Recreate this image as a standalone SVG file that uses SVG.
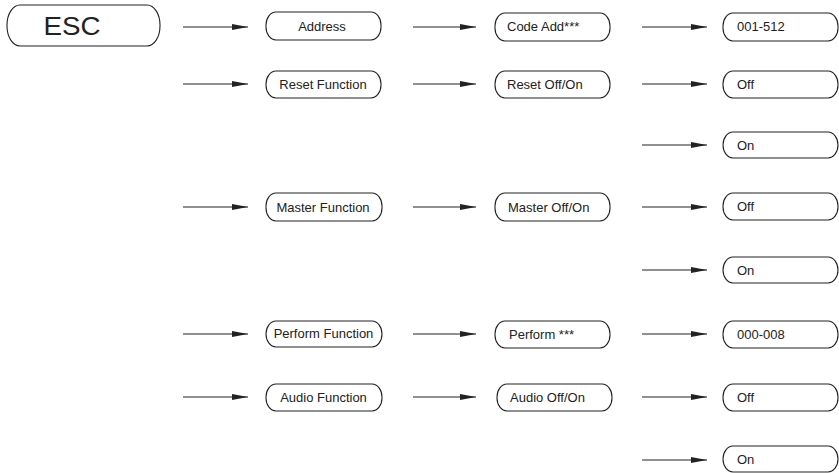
<svg xmlns="http://www.w3.org/2000/svg" width="839" height="473" viewBox="0 0 839 473">
<style>
.b{fill:#fff;stroke:#222;stroke-width:1.1}
.t{font-family:"Liberation Sans",Arial,sans-serif;font-size:13px;fill:#222}
.c{text-anchor:middle}
.e{font-family:"Liberation Sans",Arial,sans-serif;font-size:25px;fill:#222;text-anchor:middle}
.a{stroke:#222;stroke-width:1.1;fill:none;marker-end:url(#ah)}
</style>
<defs>
<marker id="ah" markerUnits="userSpaceOnUse" markerWidth="17" markerHeight="8" refX="16" refY="3.5" orient="auto">
<path d="M0,0.5 L16,3.5 L0,6.5 Z" fill="#222"/>
</marker>
</defs>
<g id="connectors">
<line class="a" x1="183" y1="27" x2="248" y2="27"/>
<line class="a" x1="413" y1="27" x2="476" y2="27"/>
<line class="a" x1="642" y1="27" x2="707" y2="27"/>
<line class="a" x1="183" y1="84" x2="248" y2="84"/>
<line class="a" x1="413" y1="84" x2="476" y2="84"/>
<line class="a" x1="642" y1="84" x2="707" y2="84"/>
<line class="a" x1="642" y1="145" x2="707" y2="145"/>
<line class="a" x1="183" y1="207" x2="248" y2="207"/>
<line class="a" x1="413" y1="207" x2="476" y2="207"/>
<line class="a" x1="642" y1="207" x2="707" y2="207"/>
<line class="a" x1="642" y1="270" x2="707" y2="270"/>
<line class="a" x1="183" y1="334" x2="248" y2="334"/>
<line class="a" x1="413" y1="334" x2="476" y2="334"/>
<line class="a" x1="642" y1="334" x2="707" y2="334"/>
<line class="a" x1="183" y1="397" x2="248" y2="397"/>
<line class="a" x1="413" y1="397" x2="476" y2="397"/>
<line class="a" x1="642" y1="397" x2="707" y2="397"/>
<line class="a" x1="642" y1="460" x2="707" y2="460"/>
</g>
<g id="esc"><rect class="b" x="7" y="5" width="153" height="41" rx="13" ry="20"/><text class="e" x="72" y="35" textLength="57" lengthAdjust="spacingAndGlyphs">ESC</text></g>
<g id="address"><rect class="b" x="266" y="12" width="115" height="28" rx="10" ry="13"/><text class="t c" x="322" y="30.5">Address</text></g>
<g id="code-add"><rect class="b" x="495" y="13" width="115" height="28" rx="10" ry="13"/><text class="t" x="507" y="30.5">Code Add***</text></g>
<g id="v001-512"><rect class="b" x="723" y="13" width="115" height="28" rx="10" ry="13"/><text class="t" x="737" y="31">001-512</text></g>
<g id="reset-function"><rect class="b" x="266" y="71" width="115" height="27" rx="10" ry="13"/><text class="t c" x="323" y="89">Reset Function</text></g>
<g id="reset-offon"><rect class="b" x="495" y="71" width="115" height="27" rx="10" ry="13"/><text class="t" x="507" y="89">Reset Off/On</text></g>
<g id="reset-off"><rect class="b" x="723" y="71" width="115" height="27" rx="10" ry="13"/><text class="t" x="737" y="89">Off</text></g>
<g id="reset-on"><rect class="b" x="723" y="132" width="115" height="26" rx="10" ry="13"/><text class="t" x="737" y="149.5">On</text></g>
<g id="master-function"><rect class="b" x="266" y="193" width="116" height="28" rx="10" ry="13"/><text class="t c" x="323" y="211.5">Master Function</text></g>
<g id="master-offon"><rect class="b" x="495" y="193" width="115" height="28" rx="10" ry="13"/><text class="t" x="508" y="211.5">Master Off/On</text></g>
<g id="master-off"><rect class="b" x="723" y="193" width="115" height="27" rx="10" ry="13"/><text class="t" x="737" y="211">Off</text></g>
<g id="master-on"><rect class="b" x="723" y="257" width="115" height="26" rx="10" ry="13"/><text class="t" x="737" y="274.5">On</text></g>
<g id="perform-function"><rect class="b" x="266" y="321" width="116" height="26" rx="10" ry="13"/><text class="t c" x="323.5" y="338">Perform Function</text></g>
<g id="perform"><rect class="b" x="495" y="321" width="115" height="27" rx="10" ry="13"/><text class="t" x="509" y="339">Perform ***</text></g>
<g id="v000-008"><rect class="b" x="723" y="321" width="115" height="27" rx="10" ry="13"/><text class="t" x="737" y="339">000-008</text></g>
<g id="audio-function"><rect class="b" x="266" y="384" width="116" height="27" rx="10" ry="13"/><text class="t c" x="323.5" y="402">Audio Function</text></g>
<g id="audio-offon"><rect class="b" x="497" y="384" width="115" height="27" rx="10" ry="13"/><text class="t" x="510" y="402">Audio Off/On</text></g>
<g id="audio-off"><rect class="b" x="723" y="384" width="115" height="27" rx="10" ry="13"/><text class="t" x="737" y="402">Off</text></g>
<g id="audio-on"><rect class="b" x="723" y="446" width="115" height="26" rx="10" ry="13"/><text class="t" x="737" y="463.5">On</text></g>
</svg>
